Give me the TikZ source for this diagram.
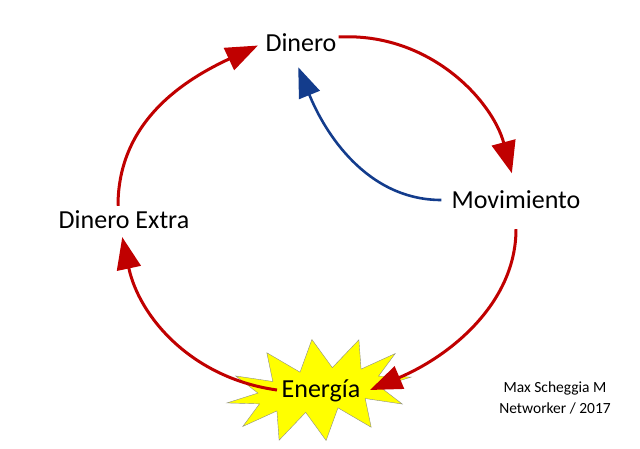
\documentclass[tikz,border=0pt]{standalone}
\usepackage{fontspec}
\setmainfont{Carlito}
\usetikzlibrary{arrows.meta, shapes.symbols, positioning}
\definecolor{cyRed}{HTML}{C00000}
\definecolor{cyBlue}{HTML}{133C8C}
\definecolor{cyYellow}{HTML}{FFFF00}
\tikzset{
  lbl/.style={font=\fontsize{26}{30}\selectfont, inner sep=2pt},
  credit/.style={font=\fontsize{15.5}{21}\selectfont, align=center, inner sep=0pt},
  burst/.style={starburst, starburst points=12, starburst point height=30pt,
    random starburst=0, fill=cyYellow, draw=black!45, thin,
    minimum width=186pt, minimum height=102pt},
  cycle/.style={-{Triangle[length=32pt, width=24pt]}, line width=3pt, cyRed},
  back/.style={-{Triangle[length=30pt, width=22pt]}, line width=2.6pt, cyBlue}
}
\begin{document}
\begin{tikzpicture}[x=1pt, y=1pt]
  \useasboundingbox (0,0) rectangle (640,448);
  \node[lbl] (din) at (301,405) {Dinero};
  \node[lbl] (mov) at (516,248) {Movimiento};
  \node[lbl] (dx) at (124,228) {Dinero Extra};
  \node[burst, rotate=8] (bst) at (319,58) {};
  \node[credit] (auth) at (555,50) {Max Scheggia M\\Networker / 2017};
  % main cycle
  \draw[cycle, shorten >=6pt] ([xshift=-6pt, yshift=3pt]dx.north) to[out=90, in=205] (din.west);
  \draw[cycle, shorten >=16pt] ([yshift=6pt]din.east) to[out=3, in=105] (mov.north);
  \draw[cycle, shorten <=18pt] (mov.south) to[out=-90, in=23] ([xshift=51pt]bst.center);
  \draw[cycle, shorten >=6pt] ([xshift=-42pt]bst.center) to[out=172, in=-78] ([xshift=-3pt]dx.south);
  % shortcut back
  \draw[back, shorten <=8pt, shorten >=14pt] (mov.west) to[out=180, in=-68] ([xshift=-8pt]din.south);
  \node[lbl] (ene) at (321,57) {Energía};
\end{tikzpicture}
\end{document}
